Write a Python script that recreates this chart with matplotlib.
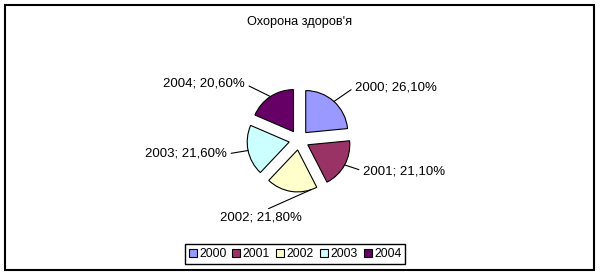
import numpy as np
import matplotlib
matplotlib.use('Agg')
import matplotlib.pyplot as plt
from matplotlib.patches import Rectangle

plt.rcParams['font.family'] = ['Liberation Sans', 'DejaVu Sans']

years = ['2000', '2001', '2002', '2003', '2004']
shares = [26.1, 21.1, 21.8, 21.6, 20.6]
colors = ['#9999FF', '#993366', '#FFFFCC', '#CCFFFF', '#660066']
title = "Охорона здоров'я"

labels = [(y + '; ' + '%.2f' % v).replace('.', ',') + '%' for y, v in zip(years, shares)]

# label placement (pixels, y down), alignment and leader anchor tweak
label_pos = [(355, 87), (363, 171), (261, 218), (227, 154), (245, 84)]
label_ha = ['left', 'left', 'center', 'right', 'right']
label_rel = [(0, 0.5), (0, 0.5), (0.5, 1), (1, 0.5), (1, 0.5)]
anchor_shift = [0, 0, -27, 0, 0]

W, H = 601, 276
fig = plt.figure(figsize=(W / 100, H / 100), dpi=100)
ax = fig.add_axes([0, 0, 1, 1])

cx, cy, r = 299, 140, 42
gap = 10
wedges, _ = ax.pie(shares, colors=colors, explode=[gap] * len(shares),
                   radius=r, center=(cx, cy), startangle=-90, counterclock=True,
                   wedgeprops=dict(edgecolor='black', linewidth=0.8))

ax.set_xlim(0, W)
ax.set_ylim(H, 0)
ax.set_aspect('equal')
ax.axis('off')

for w, lab, pos, ha, rel, sh in zip(wedges, labels, label_pos, label_ha, label_rel, anchor_shift):
    mid = np.deg2rad((w.theta1 + w.theta2) / 2)
    wx = w.center[0]
    wy = w.center[1]
    a = mid + np.deg2rad(sh)
    xy = (wx + r * np.cos(a), wy + r * np.sin(a))
    ax.annotate(lab, xy=xy, xytext=pos, ha=ha, va='center', fontsize=9.5,
                arrowprops=dict(arrowstyle='-', color='black', lw=0.8,
                                shrinkA=1, shrinkB=0, relpos=rel))

ax.text(300, 22, title, ha='center', va='center', fontsize=9.2)

leg = ax.legend(wedges, years, loc='center', bbox_to_anchor=(295 / W, 1 - 254 / H),
                bbox_transform=fig.transFigure, ncol=5, fontsize=8.8,
                frameon=True, fancybox=False, edgecolor='black', framealpha=1,
                handlelength=0.65, handleheight=0.65, handletextpad=0.2,
                columnspacing=0.5, borderpad=0.3, borderaxespad=0)
leg.get_frame().set_linewidth(1.0)

ax.add_patch(Rectangle((5, 5), 589, 265, fill=False, edgecolor='black', lw=1.5))

fig.savefig('out.png', dpi=100)
